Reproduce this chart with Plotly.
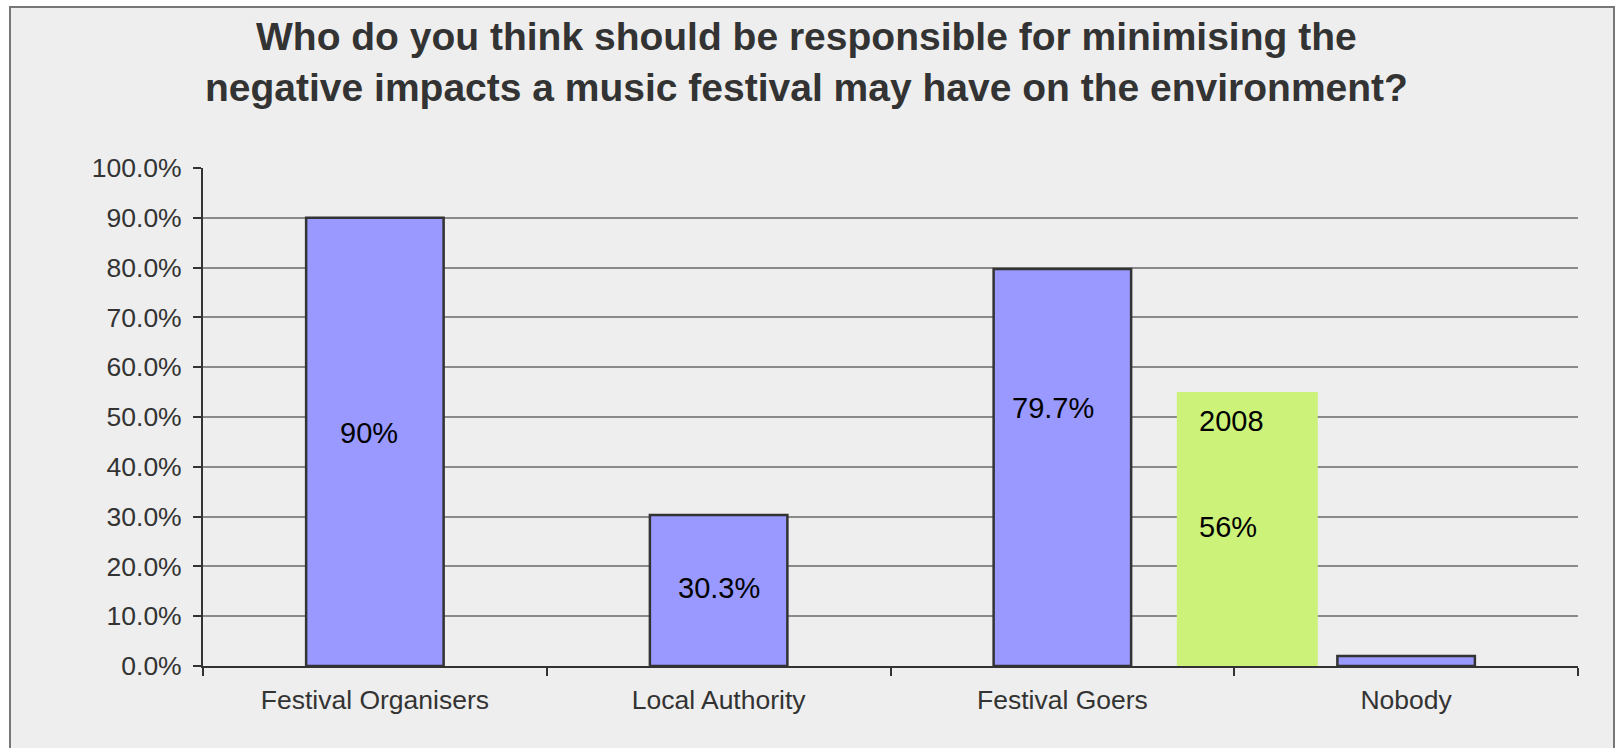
import plotly.graph_objects as go

categories = ["Festival Organisers", "Local Authority", "Festival Goers", "Nobody"]
values_2009 = [90.0, 30.3, 79.7, 2.0]
label_texts = ["90%", "30.3%", "79.7%", ""]
value_2008_category = "Festival Goers"
value_2008 = 55.0
text_2008 = ["2008", "56%"]
y_ticks = [0, 10, 20, 30, 40, 50, 60, 70, 80, 90, 100]
y_tick_labels = [f"{v:.1f}%" for v in y_ticks]
title_lines = ["Who do you think should be responsible for minimising the",
               "negative impacts a music festival may have on the environment?"]

FONT = "Liberation Sans, Arial, sans-serif"

fig = go.Figure()
fig.add_trace(go.Bar(
    x=categories, y=values_2009, width=0.4,
    marker=dict(color="#9999ff", line=dict(color="#333333", width=2.5)),
    hoverinfo="x+y", showlegend=False,
))
fig.add_trace(go.Bar(
    x=[value_2008_category], y=[value_2008], width=0.41, offset=0.333,
    marker=dict(color="#ccf27a", line=dict(width=0)),
    showlegend=False,
))

annotations = []
# bar labels (manually placed text boxes in the original)
label_pos = [(0, 46.8, -6), (1, 15.7, 0), (2, 51.8, -9)]
for (i, yv, xs) in label_pos:
    annotations.append(dict(x=i, y=yv, xref="x", yref="y", text=label_texts[i],
                            showarrow=False, xshift=xs,
                            font=dict(family=FONT, size=29, color="#000000")))
for t, yv in zip(text_2008, [49.2, 27.9]):
    annotations.append(dict(x=2.392, y=yv, xref="x", yref="y", text=t,
                            showarrow=False, xanchor="left",
                            font=dict(family=FONT, size=29, color="#000000")))
title_x = (806 - 203) / 1375
for t, py in zip(title_lines, [1.2631, 1.1617]):
    annotations.append(dict(x=title_x, y=py, xref="paper", yref="paper",
                            text="<b>" + t + "</b>",
                            showarrow=False, xanchor="center", yanchor="middle",
                            font=dict(family=FONT, size=39, color="#333333")))

# left: 203, right: 1578 -> width 1375 ; top 168, bottom 666 -> height 498
fig.update_layout(
    width=1618, height=748,
    margin=dict(l=203, r=40, t=168, b=82, pad=0),
    paper_bgcolor="#ffffff",
    plot_bgcolor="rgba(0,0,0,0)",
    barmode="overlay",
    bargap=0.6,
    annotations=annotations,
    shapes=[dict(type="rect", xref="paper", yref="paper",
                 x0=(10 - 203) / 1375, x1=(1614 - 203) / 1375,
                 y0=-0.3, y1=(666 - 7) / 498,
                 fillcolor="#eeeeee", line=dict(color="#777777", width=2),
                 layer="below")],
    xaxis=dict(
        type="category", range=[-0.5, 3.5],
        tickson="boundaries", ticks="outside", ticklen=8, tickwidth=1.5,
        tickcolor="#333333",
        showline=True, linecolor="#333333", linewidth=2,
        showgrid=False, zeroline=False, ticklabelstandoff=9,
        tickfont=dict(family=FONT, size=26.5, color="#333333"),
    ),
    yaxis=dict(
        range=[0, 100], tickvals=y_ticks, ticktext=y_tick_labels,
        ticks="outside", ticklen=8, tickwidth=1.5, tickcolor="#333333",
        showline=True, linecolor="#333333", linewidth=2,
        showgrid=True, gridcolor="#8a8a8a", gridwidth=1.5,
        zeroline=False, ticklabelstandoff=6,
        tickfont=dict(family=FONT, size=26.5, color="#333333"),
    ),
)

fig.write_html("out.html")
